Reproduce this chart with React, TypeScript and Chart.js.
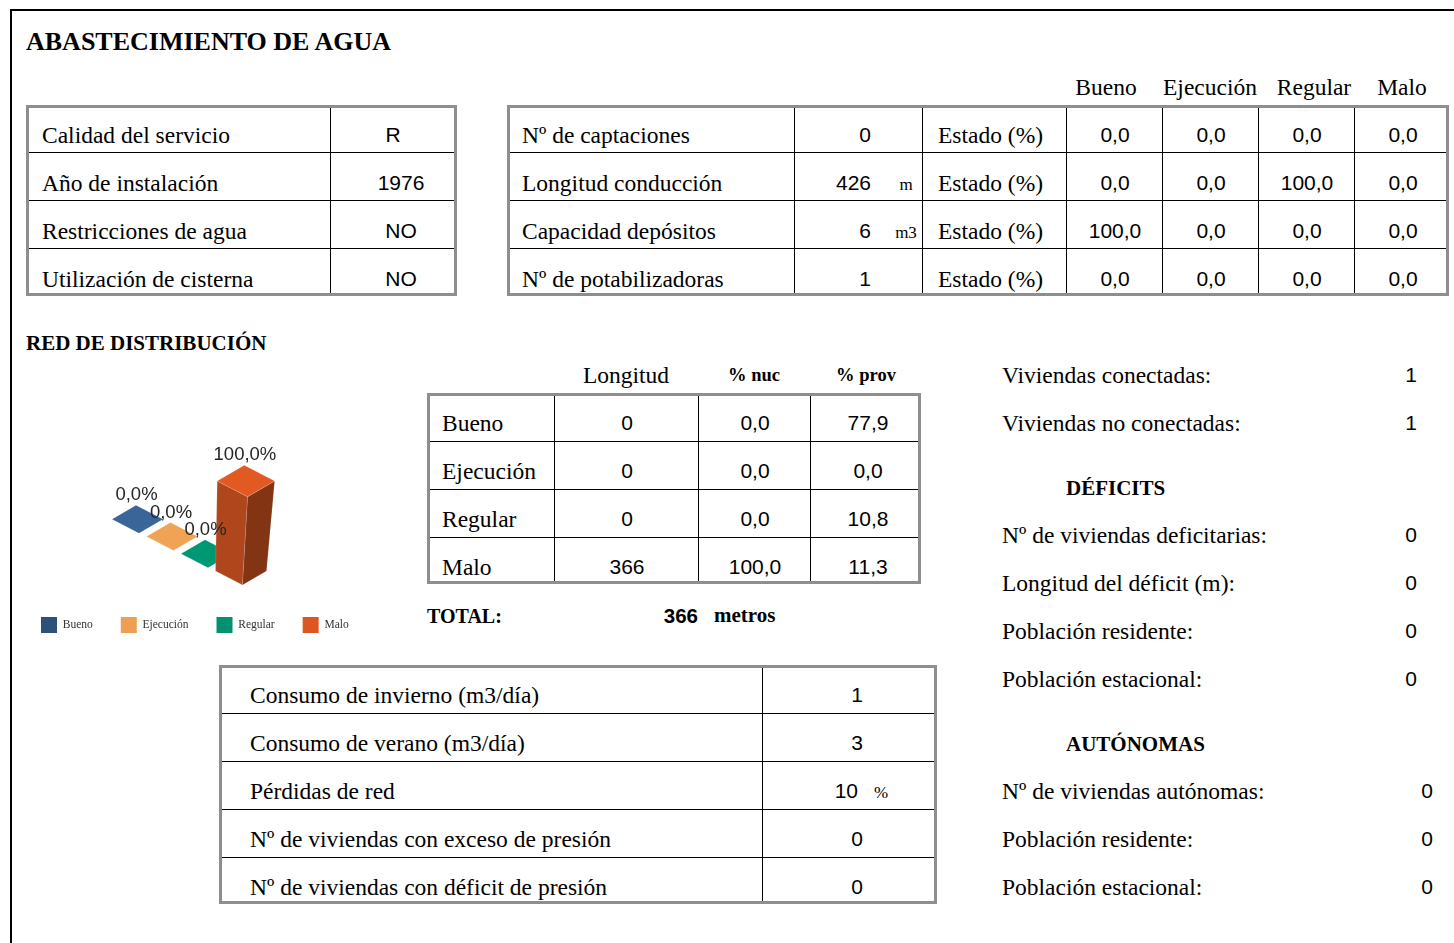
import React, { useEffect, useRef } from 'react';
import { Chart, registerables } from 'chart.js';

Chart.register(...registerables);

// ---------------- DATA ----------------
const TITLE = 'ABASTECIMIENTO DE AGUA';
const SERVICE_LABELS = ['Calidad del servicio', 'Año de instalación', 'Restricciones de agua', 'Utilización de cisterna'];
const SERVICE_VALUES = ['R', '1976', 'NO', 'NO'];

const INFRA_LABELS = ['Nº de captaciones', 'Longitud conducción', 'Capacidad depósitos', 'Nº de potabilizadoras'];
const INFRA_VALUES = ['0', '426', '6', '1'];
const INFRA_UNITS = ['', 'm', 'm3', ''];
const ESTADO_HEADERS = ['Bueno', 'Ejecución', 'Regular', 'Malo'];
const ESTADO_ROW_1 = [0, 0, 0, 0];
const ESTADO_ROW_2 = [0, 0, 100, 0];
const ESTADO_ROW_3 = [100, 0, 0, 0];
const ESTADO_ROW_4 = [0, 0, 0, 0];

const RED_TITLE = 'RED DE DISTRIBUCIÓN';
const CATEGORIES = ['Bueno', 'Ejecución', 'Regular', 'Malo'];
const RED_LONGITUD = [0, 0, 0, 366];
const RED_NUC = [0, 0, 0, 100];
const RED_PROV = [77.9, 0, 10.8, 11.3];
const RED_TOTAL = 366;

// chart series: % of network length by state
const BAR_VALUES = [0, 0, 0, 100];

const CONSUMO_LABELS = [
  'Consumo de invierno (m3/día)',
  'Consumo de verano (m3/día)',
  'Pérdidas de red',
  'Nº de viviendas con exceso de presión',
  'Nº de viviendas con déficit de presión',
];
const CONSUMO_VALUES = ['1', '3', '10', '0', '0'];
const CONSUMO_UNITS = ['', '', '%', '', ''];

const CONEXION_LABELS = ['Viviendas conectadas:', 'Viviendas no conectadas:'];
const CONEXION_VALUES = ['1', '1'];
const DEFICIT_TITLE = 'DÉFICITS';
const DEFICIT_LABELS = ['Nº de viviendas deficitarias:', 'Longitud del déficit (m):', 'Población residente:', 'Población estacional:'];
const DEFICIT_VALUES = ['0', '0', '0', '0'];
const AUTONOMAS_TITLE = 'AUTÓNOMAS';
const AUTONOMAS_LABELS = ['Nº de viviendas autónomas:', 'Población residente:', 'Población estacional:'];
const AUTONOMAS_VALUES = ['0', '0', '0'];

// ---------------- STYLE ----------------
const SERIF = '"Liberation Serif", "Times New Roman", Times, serif';
const SANS = '"Liberation Sans", Arial, Helvetica, sans-serif';
const TOP_COLORS = ['#3A6598', '#F0A354', '#009872', '#E05A22'];
const FRONT_COLORS = ['#2E5079', '#D08A40', '#007A5C', '#B0461B'];
const SIDE_COLORS = ['#233D5E', '#A86E33', '#005F47', '#833412'];
const LEGEND_COLORS = ['#2F5079', '#EF9F52', '#009270', '#DD561F'];

const fmt1 = (v: number) => v.toFixed(1).replace('.', ',');

// ---------------- HELPERS ----------------
type TP = {
  x: number; y: number; size: number; sans?: boolean; bold?: boolean;
  align?: 'left' | 'center' | 'right'; children: React.ReactNode;
};
function T({ x, y, size, sans, bold, align = 'left', children }: TP) {
  const asc = sans ? 0.8465 : 0.8375;
  const tx = align === 'center' ? 'translateX(-50%)' : align === 'right' ? 'translateX(-100%)' : 'none';
  return (
    <div
      style={{
        position: 'absolute', left: x, top: y - asc * size, fontFamily: sans ? SANS : SERIF,
        fontSize: size, lineHeight: `${size}px`, fontWeight: bold ? 700 : 400,
        whiteSpace: 'nowrap', transform: tx, color: '#000',
      }}
    >
      {children}
    </div>
  );
}

function Rect({ x, y, w, h, c = '#000' }: { x: number; y: number; w: number; h: number; c?: string }) {
  return <div style={{ position: 'absolute', left: x, top: y, width: w, height: h, background: c }} />;
}

function Frame({ x1, y1, x2, y2, rows, cols }: { x1: number; y1: number; x2: number; y2: number; rows: number[]; cols: number[] }) {
  return (
    <>
      {rows.map((ry, i) => <Rect key={'r' + i} x={x1} y={ry} w={x2 - x1} h={1} />)}
      {cols.map((cx, i) => <Rect key={'c' + i} x={cx} y={y1} w={1} h={y2 - y1} />)}
      <div
        style={{
          position: 'absolute', left: x1, top: y1, width: x2 - x1, height: y2 - y1,
          border: '3px solid #8e8e8e', boxSizing: 'border-box',
        }}
      />
    </>
  );
}

// ---------------- CHART ----------------
const HW = 25.5; // half width of footprint
const HH = 14; // half depth of footprint
const SK = 1.5; // skew
const DEPTH_SLOPE = 0.5;
const LEAN = 0.055;
const PERSP = 0.0014;

const bar3d = {
  id: 'bar3d',
  beforeDatasetDraw() {
    return false;
  },
  afterDatasetsDraw(chart: any) {
    const ctx: CanvasRenderingContext2D = chart.ctx;
    const xs = chart.scales.x;
    const ys = chart.scales.y;
    const n = BAR_VALUES.length;
    const lastX = xs.getPixelForValue(n - 1);
    const zero = ys.getPixelForValue(0);
    const poly = (pts: number[][], fill: string) => {
      ctx.beginPath();
      ctx.moveTo(pts[0][0], pts[0][1]);
      for (let k = 1; k < pts.length; k++) ctx.lineTo(pts[k][0], pts[k][1]);
      ctx.closePath();
      ctx.fillStyle = fill;
      ctx.fill();
      ctx.strokeStyle = 'rgba(255,255,255,0.18)';
      ctx.lineWidth = 0.8;
      ctx.stroke();
    };
    const labels: { x: number; y: number; t: string }[] = [];
    ctx.save();
    BAR_VALUES.forEach((v, i) => {
      const px = xs.getPixelForValue(i);
      const cx = px;
      const cy = zero + (px - lastX) * DEPTH_SLOPE;
      const h = zero - ys.getPixelForValue(v);
      const foot = (s: number, dx: number, dy: number) => ({
        L: [cx + dx - HW * s, cy + dy],
        F: [cx + dx + SK * s, cy + dy + HH * s],
        R: [cx + dx + HW * s, cy + dy],
        B: [cx + dx - SK * s, cy + dy - HH * s],
      });
      const b = foot(1, 0, 0);
      const s = 1 + h * PERSP;
      const t = foot(s, h * LEAN, -h);
      if (h > 0.5) {
        poly([b.L, b.F, t.F, t.L], FRONT_COLORS[i]);
        poly([b.F, b.R, t.R, t.F], SIDE_COLORS[i]);
      }
      poly([t.L, t.F, t.R, t.B], TOP_COLORS[i]);
      labels.push({ x: cx + h * LEAN - 1, y: cy - h - HH * s - 5, t: fmt1(v) + '%' });
    });
    ctx.fillStyle = '#262626';
    ctx.font = `18.5px ${SANS}`;
    ctx.textAlign = 'center';
    ctx.textBaseline = 'alphabetic';
    labels.forEach((l) => ctx.fillText(l.t, l.x, l.y));
    ctx.restore();
  },
};

const CANVAS_W = 380;
const CANVAS_H = 213;
const X_FIRST = 124.5; // canvas px of first category
const X_STEP = 34.5;

function BarChart3D() {
  const ref = useRef<HTMLCanvasElement>(null);
  useEffect(() => {
    const xMin = -X_FIRST / X_STEP;
    const chart = new Chart(ref.current as HTMLCanvasElement, {
      type: 'bar',
      data: {
        datasets: [
          {
            label: RED_TITLE,
            data: BAR_VALUES.map((v, i) => ({ x: i, y: v })) as any,
            backgroundColor: TOP_COLORS,
          },
        ],
      },
      options: {
        responsive: false,
        animation: false,
        layout: { padding: { top: 33, left: 0, right: 0, bottom: 0 } },
        scales: {
          x: { type: 'linear', offset: false, min: xMin, max: xMin + CANVAS_W / X_STEP, display: false },
          y: { min: -20, max: 120, display: false },
        },
        plugins: {
          tooltip: { enabled: false },
          legend: {
            display: true,
            position: 'bottom',
            align: 'start',
            labels: {
              boxWidth: 16,
              boxHeight: 16,
              padding: 28,
              color: '#333',
              font: { family: SERIF, size: 11.5 },
              generateLabels: () =>
                CATEGORIES.map((c, i) => ({
                  text: c,
                  fillStyle: LEGEND_COLORS[i],
                  strokeStyle: LEGEND_COLORS[i],
                  lineWidth: 0,
                  hidden: false,
                  index: i,
                  datasetIndex: 0,
                  fontColor: '#333',
                })),
            },
          },
        },
      },
      plugins: [bar3d as any],
    });
    return () => chart.destroy();
  }, []);
  return (
    <canvas
      ref={ref}
      width={CANVAS_W}
      height={CANVAS_H}
      style={{ position: 'absolute', left: 13, top: 430, width: CANVAS_W, height: CANVAS_H }}
    />
  );
}

// ---------------- PAGE ----------------
const SERVICE_VALUE_X = [393, 401, 401, 401];
const ESTADO_HEADER_X = [1106, 1210, 1314, 1402];
const ESTADO_COL_X = [1115, 1211, 1307, 1403];

export default function App() {
  const estadoRows = [ESTADO_ROW_1, ESTADO_ROW_2, ESTADO_ROW_3, ESTADO_ROW_4];
  const L = 23.5;
  const V = 21;
  return (
    <div
      style={{
        position: 'absolute', left: 0, top: 0, width: 1454, height: 943, overflow: 'hidden',
        background: '#fff',
      }}
    >
      {/* outer frame */}
      <Rect x={10} y={9} w={1444} h={2} />
      <Rect x={10} y={9} w={2} h={934} />

      <T x={26} y={51} size={26} bold>{TITLE}</T>

      {/* table 1 */}
      <Frame x1={26} y1={105} x2={457} y2={296} rows={[152, 200, 248]} cols={[330]} />
      {SERVICE_LABELS.map((s, r) => (
        <T key={'sl' + r} x={42} y={105 + 48 * r + 39} size={L}>{s}</T>
      ))}
      {SERVICE_VALUES.map((s, r) => (
        <T key={'sv' + r} x={SERVICE_VALUE_X[r]} y={105 + 48 * r + 37} size={V} sans align="center">{s}</T>
      ))}

      {/* table 2 */}
      {ESTADO_HEADERS.map((h, c) => (
        <T key={'eh' + c} x={ESTADO_HEADER_X[c]} y={96} size={L} align="center">{h}</T>
      ))}
      <Frame x1={507} y1={105} x2={1449} y2={296} rows={[152, 200, 248]} cols={[794, 922, 1066, 1162, 1258, 1354]} />
      {INFRA_LABELS.map((s, r) => (
        <React.Fragment key={'il' + r}>
          <T x={522} y={105 + 48 * r + 39} size={L}>{s}</T>
          <T x={871} y={105 + 48 * r + 37} size={V} sans align="right">{INFRA_VALUES[r]}</T>
          {INFRA_UNITS[r] ? (
            <T x={906} y={105 + 48 * r + 37} size={17} align="center">{INFRA_UNITS[r]}</T>
          ) : null}
          <T x={938} y={105 + 48 * r + 39} size={L}>Estado (%)</T>
          {estadoRows[r].map((v, c) => (
            <T key={'ev' + c} x={ESTADO_COL_X[c]} y={105 + 48 * r + 37} size={V} sans align="center">{fmt1(v)}</T>
          ))}
        </React.Fragment>
      ))}

      {/* red de distribución */}
      <T x={26} y={351} size={21} bold>{RED_TITLE}</T>
      <BarChart3D />

      <T x={626} y={384} size={L} align="center">Longitud</T>
      <T x={754} y={381} size={18.5} bold align="center">% nuc</T>
      <T x={866} y={381} size={18.5} bold align="center">% prov</T>
      <Frame x1={427} y1={393} x2={921} y2={584} rows={[441, 489, 537]} cols={[554, 698, 810]} />
      {CATEGORIES.map((c, r) => (
        <React.Fragment key={'rd' + r}>
          <T x={442} y={393 + 48 * r + 39} size={L}>{c}</T>
          <T x={627} y={393 + 48 * r + 37} size={V} sans align="center">{String(RED_LONGITUD[r])}</T>
          <T x={755} y={393 + 48 * r + 37} size={V} sans align="center">{fmt1(RED_NUC[r])}</T>
          <T x={868} y={393 + 48 * r + 37} size={V} sans align="center">{fmt1(RED_PROV[r])}</T>
        </React.Fragment>
      ))}
      <T x={427} y={623} size={20} bold>TOTAL:</T>
      <T x={698} y={623} size={20.5} sans bold align="right">{String(RED_TOTAL)}</T>
      <T x={714} y={623} size={21} bold>metros</T>

      {/* table consumo */}
      <Frame x1={219} y1={665} x2={937} y2={904} rows={[713, 761, 809, 857]} cols={[762]} />
      {CONSUMO_LABELS.map((s, r) => (
        <React.Fragment key={'cl' + r}>
          <T x={250} y={665 + 48 * r + 39} size={L}>{s}</T>
          {CONSUMO_UNITS[r] ? (
            <>
              <T x={858} y={665 + 48 * r + 37} size={V} sans align="right">{CONSUMO_VALUES[r]}</T>
              <T x={874} y={665 + 48 * r + 37} size={17}>{CONSUMO_UNITS[r]}</T>
            </>
          ) : (
            <T x={857} y={665 + 48 * r + 37} size={V} sans align="center">{CONSUMO_VALUES[r]}</T>
          )}
        </React.Fragment>
      ))}

      {/* right column */}
      {CONEXION_LABELS.map((s, r) => (
        <React.Fragment key={'cx' + r}>
          <T x={1002} y={384 + 48 * r} size={L}>{s}</T>
          <T x={1411} y={382 + 48 * r} size={V} sans align="center">{CONEXION_VALUES[r]}</T>
        </React.Fragment>
      ))}
      <T x={1066} y={496} size={21} bold>{DEFICIT_TITLE}</T>
      {DEFICIT_LABELS.map((s, r) => (
        <React.Fragment key={'df' + r}>
          <T x={1002} y={544 + 48 * r} size={L}>{s}</T>
          <T x={1411} y={542 + 48 * r} size={V} sans align="center">{DEFICIT_VALUES[r]}</T>
        </React.Fragment>
      ))}
      <T x={1066} y={752} size={21} bold>{AUTONOMAS_TITLE}</T>
      {AUTONOMAS_LABELS.map((s, r) => (
        <React.Fragment key={'au' + r}>
          <T x={1002} y={800 + 48 * r} size={L}>{s}</T>
          <T x={1427} y={798 + 48 * r} size={V} sans align="center">{AUTONOMAS_VALUES[r]}</T>
        </React.Fragment>
      ))}
    </div>
  );
}
